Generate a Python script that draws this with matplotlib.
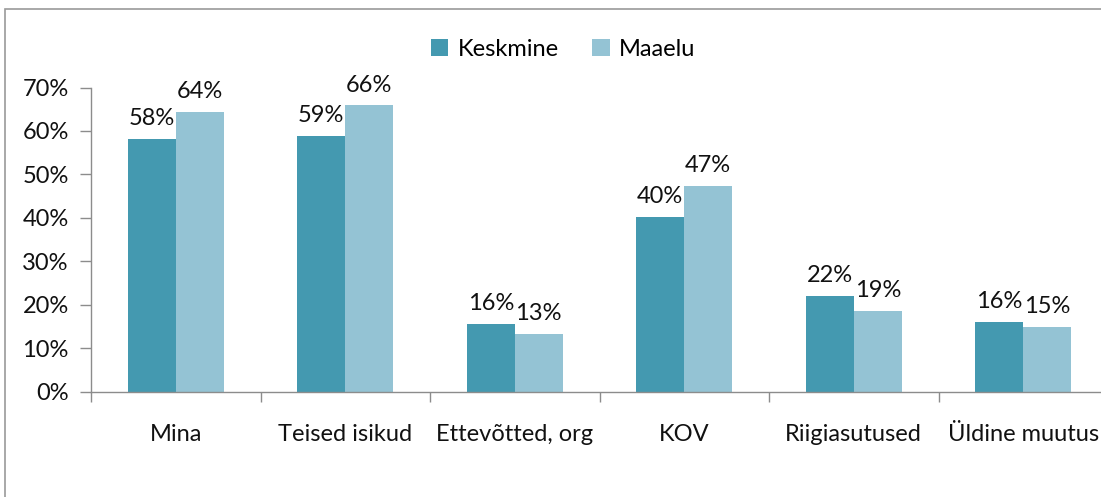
import numpy as np
import matplotlib.pyplot as plt
from matplotlib.patches import Rectangle

# data (shares, 0..1)
categories = ["Mina", "Teised isikud", "Ettevõtted, org", "KOV", "Riigiasutused", "Üldine muutus"]
keskmine = [0.581, 0.588, 0.156, 0.403, 0.221, 0.160]
maaelu = [0.644, 0.659, 0.133, 0.473, 0.186, 0.150]
series_names = ["Keskmine", "Maaelu"]
yticks = [0, 0.1, 0.2, 0.3, 0.4, 0.5, 0.6, 0.7]

c_dark = "#4499B0"
c_light = "#94C3D4"
grey = "#8C8C8C"
txt = "#111111"
fs = 17

plt.rcParams["font.family"] = ["Lato", "DejaVu Sans"]

W, H = 1101, 497
fig = plt.figure(figsize=(W / 100, H / 100), dpi=100)

# axes: left edge 91px, 0% at y=392, 70% at y=87.5, runs past right edge
x0, x1 = 91, 1108
yb, yt = 391.7, 87.5
ax = fig.add_axes([x0 / W, (H - yb) / H, (x1 - x0) / W, (yb - yt) / H])

x = np.arange(len(categories))
w = 0.283
b1 = ax.bar(x - w / 2, keskmine, w, color=c_dark, label=series_names[0], clip_on=False)
b2 = ax.bar(x + w / 2, maaelu, w, color=c_light, label=series_names[1], clip_on=False)

for bars, vals in ((b1, keskmine), (b2, maaelu)):
    for rect, v in zip(bars, vals):
        ax.annotate(f"{round(v * 100):.0f}%",
                    (rect.get_x() + rect.get_width() / 2, v),
                    xytext=(0, 7), textcoords="offset points",
                    ha="center", va="bottom", fontsize=fs, color=txt,
                    annotation_clip=False)

ax.set_xlim(-0.5, len(categories) - 0.5)
ax.set_ylim(0, 0.7)
ax.set_yticks(yticks)
ax.set_yticklabels([f"{int(round(t * 100))}%" for t in yticks])

ax.set_xticks(x)
ax.set_xticklabels(categories)
ax.set_xticks(np.arange(len(categories) + 1) - 0.5, minor=True)
ax.tick_params(axis="x", which="major", length=0, pad=23, labelsize=fs, labelcolor=txt)
ax.tick_params(axis="x", which="minor", length=7, color=grey, width=1, direction="out")
ax.tick_params(axis="y", length=8, color=grey, width=1, pad=8, labelsize=fs, labelcolor=txt)

for s in ("top", "right"):
    ax.spines[s].set_visible(False)
for s in ("left", "bottom"):
    ax.spines[s].set_color(grey)
    ax.spines[s].set_linewidth(1)

leg = fig.legend(loc="center", bbox_to_anchor=(563 / W, 1 - 49 / H), ncol=2,
                 frameon=False, fontsize=fs, handlelength=0.75, handleheight=0.75,
                 handletextpad=0.4, columnspacing=1.4)

# outer chart frame (only left and top edges visible in the crop)
fig.patches.append(Rectangle((5 / W, -0.1), 1.2, 1.1 - 9 / H, transform=fig.transFigure,
                             fill=False, edgecolor="#9A9A9A", linewidth=1.2))

fig.savefig("out.png", dpi=100)
